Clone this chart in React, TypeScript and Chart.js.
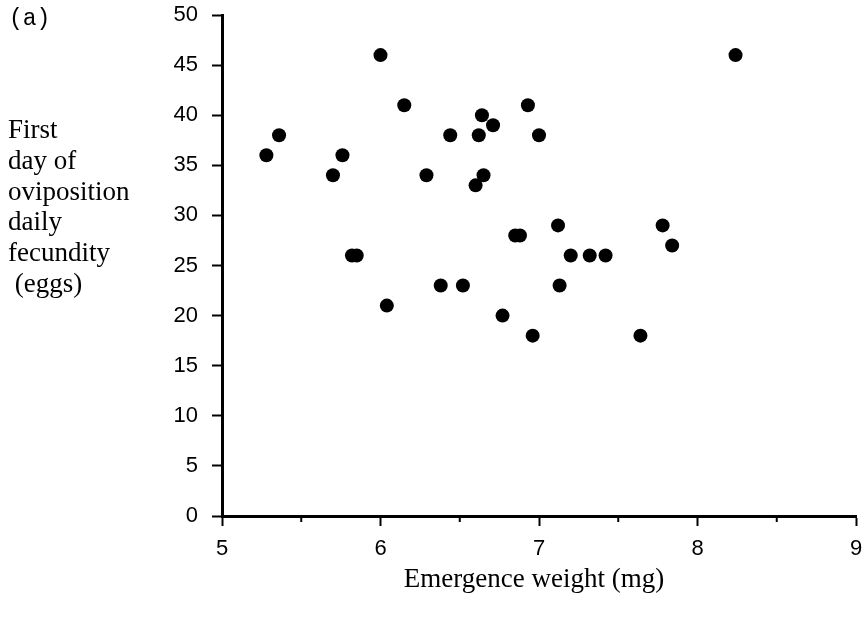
import React, { useEffect, useRef } from "react";
import { Chart, registerables } from "chart.js";

Chart.register(...registerables);

const xValues = [5.28, 5.36, 5.70, 5.76, 5.82, 5.85, 6.00, 6.04, 6.15, 6.29, 6.38, 6.44, 6.52, 6.60, 6.62, 6.64, 6.65, 6.71, 6.77, 6.85, 6.88, 6.93, 6.96, 7.00, 7.12, 7.13, 7.20, 7.32, 7.42, 7.64, 7.78, 7.84, 8.24];
const yValues = [36, 38, 34, 36, 26, 26, 46, 21, 41, 34, 23, 38, 23, 33, 38, 40, 34, 39, 20, 28, 28, 41, 18, 38, 29, 23, 26, 26, 26, 18, 29, 27, 46];

const xMin = 5;
const xMax = 9;
const yMin = 0;
const yMax = 50;
const yStep = 5;
const xStep = 1;
const xMinorTicks = [5.5, 6.5, 7.5, 8.5];

const xTitle = "Emergence weight (mg)";
const yTitleLines = ["First", "day of", "oviposition", "daily", "fecundity", " (eggs)"];
const panelLabel = "(a)";

const textPlugin = {
  id: "customText",
  afterDraw(chart: any) {
    const ctx = chart.ctx;
    ctx.save();
    ctx.fillStyle = "#000";
    ctx.textBaseline = "middle";
    ctx.textAlign = "left";
    ctx.font = "27px 'Liberation Serif'";
    yTitleLines.forEach((line, i) => {
      ctx.fillText(line, 8, 131 + i * 30.8);
    });
    ctx.textAlign = "center";
    ctx.fillText(xTitle, 534, 580);
    ctx.textAlign = "left";
    ctx.font = "23px 'Liberation Mono'";
    ctx.fillText(panelLabel, 9, 19);
    // minor ticks on x axis
    const xs = chart.scales.x;
    const bottom = chart.chartArea.bottom;
    ctx.strokeStyle = "#000";
    ctx.lineWidth = 2;
    xMinorTicks.forEach((v) => {
      const px = xs.getPixelForValue(v);
      ctx.beginPath();
      ctx.moveTo(px, bottom);
      ctx.lineTo(px, bottom + 6);
      ctx.stroke();
    });
    ctx.restore();
  },
};

export default function App() {
  const ref = useRef<HTMLCanvasElement | null>(null);
  useEffect(() => {
    document.body.style.margin = "0";
    const canvas = ref.current;
    if (!canvas) return;
    const chart = new Chart(canvas, {
      type: "scatter",
      data: {
        datasets: [
          {
            data: xValues.map((x, i) => ({ x, y: yValues[i] })),
            backgroundColor: "#000",
            borderColor: "#000",
            borderWidth: 0,
            pointRadius: 7,
          },
        ],
      },
      options: {
        animation: false,
        responsive: false,
        events: [],
        layout: { padding: { left: 0, right: 8, top: 15, bottom: 0 } },
        plugins: { legend: { display: false }, tooltip: { enabled: false } },
        scales: {
          x: {
            type: "linear",
            min: xMin,
            max: xMax,
            afterFit(scale: any) {
              scale.height = 104;
              scale.paddingLeft = 0;
              scale.paddingRight = 0;
            },
            ticks: {
              stepSize: xStep,
              color: "#000",
              font: { family: "'Liberation Sans'", size: 22 },
              padding: 10,
            },
            grid: {
              drawOnChartArea: false,
              drawTicks: true,
              tickLength: 10,
              tickColor: "#000",
              tickWidth: 2,
            },
            border: { display: true, color: "#000", width: 3 },
          },
          y: {
            type: "linear",
            min: yMin,
            max: yMax,
            afterFit(scale: any) {
              scale.width = 222;
              scale.paddingTop = 0;
              scale.paddingBottom = 0;
            },
            ticks: {
              stepSize: yStep,
              color: "#000",
              font: { family: "'Liberation Sans'", size: 22 },
              padding: 14,
            },
            grid: {
              drawOnChartArea: false,
              drawTicks: true,
              tickLength: 10,
              tickColor: "#000",
              tickWidth: 2,
            },
            border: { display: true, color: "#000", width: 3 },
          },
        },
      },
      plugins: [textPlugin],
    });
    return () => chart.destroy();
  }, []);
  return <canvas ref={ref} width={864} height={620} style={{ display: "block" }} />;
}
